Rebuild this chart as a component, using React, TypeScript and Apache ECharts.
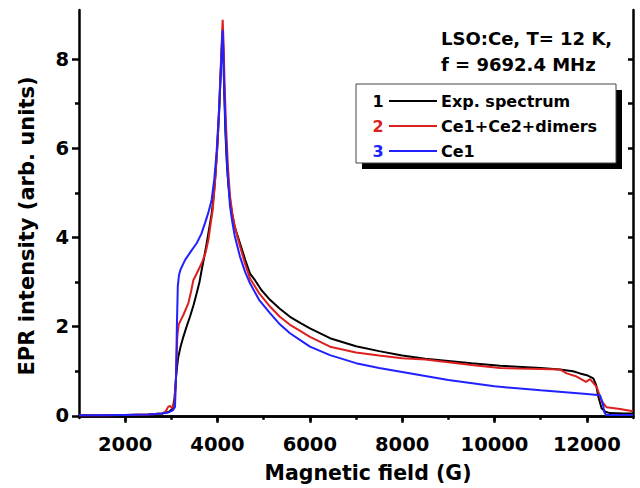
import React, { useEffect, useRef } from "react";
import * as echarts from "echarts";

// Magnetic field (G) vs EPR intensity (arb. units)
const expSpectrum: [number, number][] = [
  [1000, 0.01], [1500, 0.01], [2000, 0.02], [2500, 0.03], [2800, 0.05], [2950, 0.09],
  [3030, 0.16], [3070, 0.4], [3100, 0.85], [3130, 1.15], [3151, 1.32], [3200, 1.55],
  [3260, 1.77], [3330, 2.0], [3404, 2.22], [3480, 2.48], [3549, 2.75], [3610, 3.0],
  [3657, 3.27], [3710, 3.55], [3766, 3.87], [3820, 4.2], [3874, 4.54], [3920, 4.95],
  [3960, 5.45], [4000, 6.1], [4040, 6.9], [4070, 7.7], [4095, 8.3], [4112, 8.6],
  [4125, 8.2], [4145, 7.3], [4170, 6.4], [4200, 5.7], [4235, 5.2], [4271, 4.84],
  [4320, 4.5], [4370, 4.25], [4430, 4.05], [4487, 3.87], [4600, 3.5], [4704, 3.19],
  [4812, 3.04], [4950, 2.82], [5137, 2.6], [5350, 2.4], [5570, 2.22], [5800, 2.08],
  [6003, 1.96], [6437, 1.74], [7000, 1.56], [7500, 1.45], [8000, 1.35], [8500, 1.28],
  [9000, 1.23], [9500, 1.18], [10119, 1.12], [10500, 1.1], [11000, 1.07], [11418, 1.04],
  [11700, 1.0], [11852, 0.95], [12000, 0.91], [12140, 0.84], [12200, 0.7], [12248, 0.43],
  [12320, 0.17], [12400, 0.09], [12501, 0.06], [12800, 0.05], [13000, 0.05],
];

const ce1Ce2Dimers: [number, number][] = [
  [1000, 0.01], [1500, 0.01], [2000, 0.02], [2500, 0.03], [2800, 0.05], [2880, 0.1],
  [2930, 0.2], [2970, 0.22], [3010, 0.18], [3060, 0.22], [3100, 0.8], [3130, 1.8],
  [3160, 2.05], [3260, 2.26], [3367, 2.52], [3430, 2.8], [3476, 3.04], [3549, 3.19],
  [3657, 3.42], [3740, 3.65], [3802, 3.94], [3850, 4.3], [3896, 4.61], [3950, 5.3],
  [4000, 6.1], [4040, 7.0], [4080, 8.1], [4112, 8.88], [4130, 8.4], [4155, 7.4],
  [4185, 6.5], [4225, 5.6], [4271, 4.92], [4320, 4.55], [4370, 4.27], [4430, 4.02],
  [4487, 3.8], [4600, 3.4], [4704, 3.08], [4900, 2.75], [5137, 2.45], [5350, 2.22],
  [5570, 2.04], [5800, 1.9], [6003, 1.77], [6437, 1.55], [7000, 1.42], [7500, 1.35],
  [8000, 1.29], [8500, 1.26], [9000, 1.2], [9500, 1.14], [10119, 1.07], [10500, 1.06],
  [11000, 1.05], [11418, 1.04], [11563, 0.95], [11780, 0.88], [11982, 0.76], [12069, 0.82],
  [12213, 0.65], [12321, 0.32], [12430, 0.19], [12718, 0.15], [13000, 0.1],
];

const ce1: [number, number][] = [
  [1000, 0.01], [1500, 0.01], [2000, 0.02], [2500, 0.03], [2800, 0.05], [2950, 0.08],
  [3030, 0.12], [3079, 0.2], [3100, 0.8], [3120, 2.0], [3140, 2.9], [3165, 3.15],
  [3200, 3.28], [3296, 3.49], [3420, 3.68], [3549, 3.87], [3650, 4.08], [3729, 4.32],
  [3800, 4.55], [3873, 4.84], [3930, 5.3], [3980, 5.9], [4030, 6.8], [4070, 7.7],
  [4100, 8.4], [4112, 8.65], [4125, 8.2], [4150, 7.2], [4180, 6.3], [4220, 5.4],
  [4271, 4.7], [4320, 4.35], [4370, 4.05], [4430, 3.8], [4487, 3.57], [4600, 3.22],
  [4704, 2.97], [4900, 2.6], [5137, 2.3], [5350, 2.05], [5570, 1.85], [5800, 1.69],
  [6003, 1.55], [6437, 1.36], [7000, 1.18], [7500, 1.07], [8000, 0.98], [9000, 0.8],
  [10000, 0.66], [11000, 0.57], [12000, 0.49], [12285, 0.46], [12340, 0.3], [12380, 0.08],
  [12415, 0.02], [13000, 0.02],
];

const xMajorTicks = [2000, 4000, 6000, 8000, 10000, 12000];
const xMinorTicks = [3000, 5000, 7000, 9000, 11000];
const yMajorTicks = [0, 2, 4, 6, 8];
const yMinorTicks = [1, 3, 5, 7];
const yRightTicks = [0, 1, 2, 3, 4, 5, 6, 7, 8];

const seriesNames = ["Exp. spectrum", "Ce1+Ce2+dimers", "Ce1"];
const seriesColors = ["#000000", "#dd1f1f", "#2121ff"];

const FONT = '"DejaVu Sans", "Liberation Sans", sans-serif';

export default function App() {
  const ref = useRef<HTMLDivElement>(null);

  useEffect(() => {
    if (!ref.current) return;
    const chart = echarts.init(ref.current, undefined, { renderer: "svg" });
    const axisLine = { show: true, lineStyle: { color: "#000", width: 2.5 } };
    const labelStyle = {
      fontSize: 19.5,
      fontWeight: "bold" as const,
      fontFamily: FONT,
      color: "#000",
      formatter: (v: number) => String(v),
    };
    const xRange = { min: 1000, max: 13000 };
    const yRange = { min: -0.05, max: 9.1 };

    const legendRows = seriesNames.map((name, i) => {
      const y = 101 + i * 25;
      return [
        {
          type: "text",
          x: 378,
          y,
          z: 12,
          style: {
            text: String(i + 1),
            fill: seriesColors[i],
            font: `bold 16px ${FONT}`,
            align: "center",
            verticalAlign: "middle",
          },
        },
        {
          type: "line",
          z: 12,
          shape: { x1: 389, y1: y, x2: 437, y2: y },
          style: { stroke: seriesColors[i], lineWidth: 2 },
        },
        {
          type: "text",
          x: 441,
          y,
          z: 12,
          style: {
            text: name,
            fill: "#000",
            font: `bold 16px ${FONT}`,
            align: "left",
            verticalAlign: "middle",
          },
        },
      ];
    }).flat();

    chart.setOption({
      animation: false,
      backgroundColor: "#fff",
      grid: { left: 79, right: 7, top: 10, bottom: 70, containLabel: false },
      xAxis: [
        {
          type: "value",
          ...xRange,
          position: "bottom",
          axisLine,
          axisTick: { show: true, customValues: xMajorTicks, length: 7, lineStyle: { color: "#000", width: 2.5 } },
          axisLabel: { ...labelStyle, customValues: xMajorTicks, margin: 16 },
          splitLine: { show: false },
        },
        {
          type: "value",
          ...xRange,
          position: "bottom",
          axisLine: { show: false },
          axisTick: { show: true, customValues: xMinorTicks, length: 4, lineStyle: { color: "#000", width: 2.5 } },
          axisLabel: { show: false },
          splitLine: { show: false },
        },
        {
          type: "value",
          ...xRange,
          position: "top",
          axisLine,
          axisTick: { show: true, inside: true, customValues: xMajorTicks, length: 5, lineStyle: { color: "#000", width: 2.5 } },
          axisLabel: { show: false },
          splitLine: { show: false },
        },
      ],
      yAxis: [
        {
          type: "value",
          ...yRange,
          position: "left",
          axisLine,
          axisTick: { show: true, customValues: yMajorTicks, length: 7, lineStyle: { color: "#000", width: 2.5 } },
          axisLabel: { ...labelStyle, customValues: yMajorTicks, margin: 10 },
          splitLine: { show: false },
        },
        {
          type: "value",
          ...yRange,
          position: "left",
          axisLine: { show: false },
          axisTick: { show: true, customValues: yMinorTicks, length: 4, lineStyle: { color: "#000", width: 2.5 } },
          axisLabel: { show: false },
          splitLine: { show: false },
        },
        {
          type: "value",
          ...yRange,
          position: "right",
          axisLine,
          axisTick: { show: true, inside: true, customValues: yRightTicks, length: 5, lineStyle: { color: "#000", width: 2.5 } },
          axisLabel: { show: false },
          splitLine: { show: false },
        },
      ],
      series: [expSpectrum, ce1Ce2Dimers, ce1].map((data, i) => ({
        name: seriesNames[i],
        type: "line",
        data,
        xAxisIndex: 0,
        yAxisIndex: 0,
        showSymbol: false,
        symbol: "none",
        smooth: false,
        clip: true,
        lineStyle: { color: seriesColors[i], width: 2 },
        itemStyle: { color: seriesColors[i] },
        z: 3 + i,
      })),
      graphic: [
        {
          type: "text",
          x: 27,
          y: 226,
          rotation: Math.PI / 2,
          style: {
            text: "EPR intensity (arb. units)",
            fill: "#000",
            font: `bold 21px ${FONT}`,
            align: "center",
            verticalAlign: "middle",
          },
        },
        {
          type: "text",
          x: 368,
          y: 473,
          style: {
            text: "Magnetic field (G)",
            fill: "#000",
            font: `bold 20.5px ${FONT}`,
            align: "center",
            verticalAlign: "middle",
          },
        },
        {
          type: "text",
          x: 441,
          y: 38.5,
          style: {
            text: "LSO:Ce, T= 12 K,",
            fill: "#000",
            font: `bold 18px ${FONT}`,
            align: "left",
            verticalAlign: "middle",
          },
        },
        {
          type: "text",
          x: 441,
          y: 64,
          style: {
            text: "f = 9692.4 MHz",
            fill: "#000",
            font: `bold 18px ${FONT}`,
            align: "left",
            verticalAlign: "middle",
          },
        },
        {
          type: "rect",
          z: 10,
          shape: { x: 362, y: 90, width: 260, height: 79 },
          style: { fill: "#000" },
        },
        {
          type: "rect",
          z: 11,
          shape: { x: 356, y: 84, width: 260, height: 79 },
          style: { fill: "#fff", stroke: "#444", lineWidth: 1 },
        },
        ...legendRows,
      ],
    });

    return () => chart.dispose();
  }, []);

  return (
    <div
      ref={ref}
      style={{ position: "absolute", left: 0, top: 0, width: 640, height: 488 }}
    />
  );
}
